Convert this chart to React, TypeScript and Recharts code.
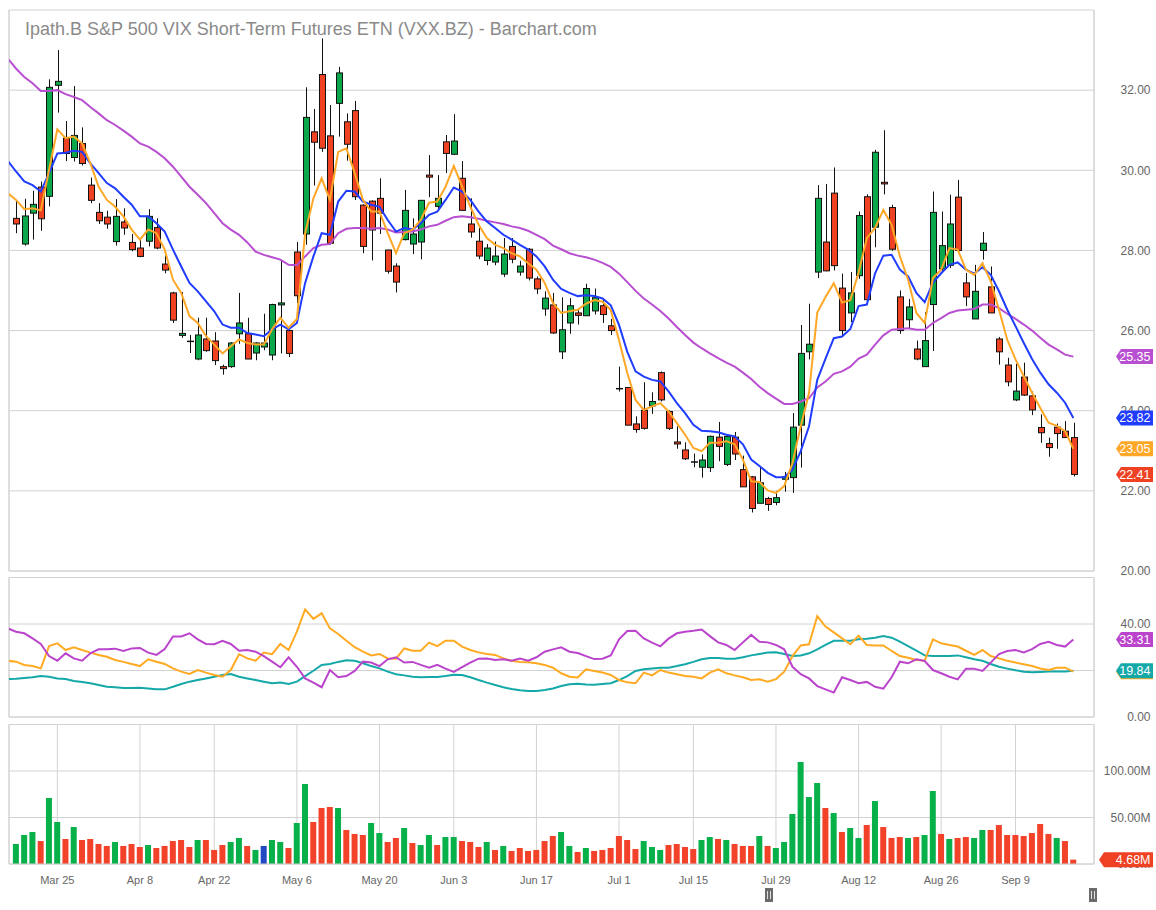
import React from 'react';
import { ComposedChart, Bar, Line, XAxis, YAxis, CartesianGrid, ReferenceLine } from 'recharts';

const FONT = '"Liberation Sans", Arial, Helvetica, sans-serif';
const W = 1156;
const X_DOMAIN: [number, number] = [-0.85, 130.5];
const GRID = '#d2d2d2';
const TXT = '#666666';
const C_GREEN = '#0aa84a';
const C_RED = '#ee4223';
const MA_ORANGE = '#ffa726';
const MA_BLUE = '#1f3cff';
const MA_PURPLE = '#b84fd0';
const IND_PURPLE = '#bb44cc';
const IND_ORANGE = '#ffaa22';
const IND_TEAL = '#14a8a8';

// x-axis tick positions (session index) and labels
const tickIdx = [5, 15, 24, 34, 44, 53, 63, 73, 82, 92, 102, 112, 121];
const tickLabels = ['Mar 25', 'Apr 8', 'Apr 22', 'May 6', 'May 20', 'Jun 3', 'Jun 17', 'Jul 1', 'Jul 15', 'Jul 29', 'Aug 12', 'Aug 26', 'Sep 9'];

const priceTicks = [20, 22, 24, 26, 28, 30, 32];
const indTicks = [0, 20, 40];
const volTicks = [0, 50, 100];

// daily candles (129 sessions)
const opens = [
  28.80, 28.16, 28.93, 29.58, 29.35, 32.12, 30.80, 30.32, 30.67, 29.63,
  28.95, 28.83, 28.22, 28.71, 28.20, 28.06, 28.23, 28.57, 27.66, 26.94,
  25.88, 25.73, 25.29, 25.79, 25.74, 25.10, 25.10, 25.92, 25.92, 25.44,
  25.59, 25.39, 26.64, 26.00, 27.96, 28.41, 30.96, 32.39, 30.86, 31.67,
  31.21, 31.49, 29.13, 29.23, 29.30, 28.01, 27.61, 28.27, 28.16, 28.21,
  29.88, 29.10, 30.71, 30.40, 29.80, 28.66, 28.23, 27.75, 27.71, 27.41,
  28.10, 27.46, 28.03, 27.29, 26.54, 26.64, 25.47, 26.19, 26.44, 26.37,
  26.49, 26.62, 26.12, 24.55, 24.58, 23.67, 24.01, 24.12, 24.95, 23.98,
  23.22, 23.02, 22.72, 22.59, 22.58, 23.34, 22.66, 23.34, 22.53, 22.35,
  21.69, 21.81, 21.71, 22.29, 22.33, 23.64, 25.47, 27.46, 28.21, 29.43,
  27.06, 26.44, 27.37, 29.34, 28.58, 29.70, 29.07, 26.84, 26.27, 25.54,
  25.10, 26.65, 27.54, 27.63, 29.33, 27.19, 26.29, 28.00, 27.09, 25.79,
  25.14, 24.27, 24.84, 24.37, 23.58, 23.18, 23.59, 23.49, 23.33,
];
const highs = [
  29.26, 29.29, 29.49, 29.72, 32.27, 33.00, 31.23, 32.10, 31.07, 29.82,
  29.18, 28.99, 29.28, 29.05, 28.41, 28.28, 29.03, 28.80, 27.87, 26.97,
  26.96, 25.89, 26.32, 26.32, 25.96, 25.15, 25.71, 26.94, 26.32, 25.71,
  26.42, 26.67, 27.74, 26.02, 28.21, 32.07, 31.53, 33.29, 31.63, 32.58,
  31.42, 31.73, 29.15, 29.25, 29.80, 28.02, 27.68, 29.51, 28.80, 29.26,
  30.38, 29.88, 30.88, 31.40, 30.23, 29.30, 28.57, 28.16, 28.22, 28.31,
  28.31, 27.74, 28.06, 27.35, 26.98, 26.94, 26.83, 26.81, 26.52, 27.17,
  27.05, 26.78, 26.29, 25.10, 24.59, 23.86, 24.71, 24.46, 24.98, 24.01,
  23.61, 23.21, 22.93, 22.91, 23.38, 23.72, 23.40, 23.47, 22.88, 22.37,
  22.62, 21.85, 22.00, 22.47, 23.94, 26.14, 26.67, 29.63, 29.66, 30.07,
  27.42, 27.46, 28.97, 29.40, 30.51, 31.00, 29.14, 27.00, 26.79, 25.75,
  26.46, 29.47, 28.97, 29.39, 29.76, 27.44, 27.64, 28.46, 27.60, 25.84,
  25.32, 25.17, 25.20, 24.48, 23.91, 23.33, 23.68, 23.74, 23.70,
];
const lows = [
  28.43, 28.12, 28.27, 28.49, 29.10, 31.44, 30.23, 30.22, 30.12, 29.18,
  28.66, 28.54, 28.12, 28.39, 27.98, 27.83, 28.10, 28.03, 27.43, 26.19,
  25.82, 25.44, 25.26, 25.47, 25.14, 24.90, 25.07, 25.67, 25.29, 25.26,
  25.51, 25.26, 25.43, 25.34, 26.68, 28.14, 29.62, 30.46, 28.14, 30.84,
  30.24, 29.26, 27.93, 27.75, 28.41, 27.42, 26.95, 28.25, 27.91, 27.78,
  29.33, 28.99, 29.93, 30.38, 28.99, 28.32, 27.78, 27.63, 27.63, 27.34,
  27.68, 27.37, 27.25, 26.91, 26.37, 25.92, 25.29, 25.92, 26.15, 26.37,
  26.40, 26.19, 25.89, 24.48, 23.64, 23.45, 23.53, 23.92, 24.23, 23.52,
  23.05, 22.77, 22.59, 22.33, 22.47, 22.74, 22.62, 22.77, 22.10, 21.46,
  21.69, 21.50, 21.64, 21.98, 21.95, 22.58, 25.28, 27.31, 27.48, 27.50,
  25.88, 26.21, 27.29, 26.75, 28.08, 29.40, 27.99, 25.92, 26.04, 25.26,
  25.10, 25.49, 27.48, 27.56, 28.00, 26.61, 26.29, 27.77, 26.44, 25.15,
  24.61, 24.24, 24.37, 23.89, 23.20, 22.85, 23.05, 23.33, 22.36,
];
const closes = [
  28.66, 28.86, 29.15, 28.79, 32.07, 32.22, 30.42, 30.87, 30.17, 29.25,
  28.74, 28.66, 28.85, 28.56, 28.02, 27.85, 28.85, 28.06, 27.51, 26.26,
  25.93, 25.73, 25.89, 25.50, 25.25, 25.05, 25.69, 26.19, 25.29, 25.69,
  25.69, 26.65, 26.69, 25.43, 26.87, 31.32, 30.70, 30.55, 28.18, 32.43,
  30.65, 29.34, 28.10, 28.51, 28.93, 27.48, 27.21, 29.00, 28.41, 29.25,
  29.83, 29.30, 30.42, 30.73, 29.00, 28.46, 27.86, 28.06, 27.86, 27.91,
  27.78, 27.61, 27.31, 27.04, 26.81, 25.94, 26.02, 26.62, 26.38, 27.05,
  26.82, 26.40, 26.00, 24.55, 23.64, 23.53, 23.56, 24.23, 24.27, 23.56,
  23.17, 22.80, 22.72, 22.77, 23.36, 23.11, 23.36, 22.92, 22.10, 21.56,
  22.20, 21.66, 21.83, 22.35, 23.59, 25.43, 25.66, 29.30, 27.49, 27.62,
  26.00, 26.94, 28.87, 26.77, 30.45, 29.66, 28.03, 26.00, 26.59, 25.29,
  25.75, 28.95, 28.12, 28.66, 28.00, 26.84, 26.98, 28.18, 26.44, 25.47,
  24.72, 24.49, 24.39, 24.02, 23.45, 23.08, 23.43, 23.33, 22.41,
];

// moving averages; first value is the session before the first visible candle
const maFast = [29.43,
  29.26, 29.03, 29.05, 29.00, 30.01, 31.02, 30.80, 30.84, 30.67, 30.17,
  29.59, 29.26, 29.09, 28.85, 28.52, 28.27, 28.52, 28.43, 28.02, 27.27,
  26.94, 26.36, 26.19, 25.86, 25.65, 25.43, 25.61, 25.78, 25.69, 25.65,
  25.65, 26.03, 26.32, 26.07, 26.29, 28.43, 29.30, 29.80, 29.26, 30.46,
  30.55, 29.93, 29.26, 28.97, 28.97, 28.43, 27.93, 28.43, 28.52, 28.76,
  29.19, 29.22, 29.59, 30.11, 29.59, 29.09, 28.64, 28.31, 28.14, 28.06,
  27.93, 27.85, 27.68, 27.52, 27.19, 26.69, 26.44, 26.48, 26.52, 26.67,
  26.76, 26.72, 26.51, 25.76, 24.94, 24.27, 24.02, 24.11, 24.19, 23.98,
  23.69, 23.40, 23.07, 22.99, 23.20, 23.20, 23.24, 23.16, 22.78, 22.24,
  22.22, 22.01, 21.95, 22.12, 22.70, 23.61, 24.44, 26.45, 26.84, 27.18,
  26.70, 26.76, 27.45, 28.31, 28.56, 29.01, 28.64, 27.85, 27.27, 26.44,
  26.19, 27.31, 27.52, 28.06, 28.02, 27.52, 27.39, 27.68, 27.23, 26.52,
  25.77, 25.28, 24.86, 24.45, 24.07, 23.70, 23.62, 23.49, 23.05,
];
const maMid = [30.24,
  29.97, 29.72, 29.63, 29.47, 29.93, 30.42, 30.44, 30.49, 30.46, 30.17,
  29.93, 29.68, 29.55, 29.34, 29.14, 28.85, 28.85, 28.68, 28.47, 28.02,
  27.60, 27.19, 26.98, 26.73, 26.48, 26.15, 26.07, 26.07, 25.94, 25.90,
  25.86, 26.03, 26.15, 26.03, 26.19, 27.19, 27.85, 28.43, 28.39, 29.22,
  29.49, 29.47, 29.22, 29.14, 29.09, 28.76, 28.47, 28.56, 28.52, 28.68,
  28.89, 28.97, 29.26, 29.57, 29.47, 29.26, 28.97, 28.72, 28.56, 28.39,
  28.27, 28.14, 28.02, 27.85, 27.60, 27.27, 27.04, 26.94, 26.86, 26.88,
  26.86, 26.80, 26.63, 26.14, 25.47, 24.98, 24.85, 24.77, 24.73, 24.48,
  24.19, 23.94, 23.65, 23.50, 23.49, 23.46, 23.40, 23.36, 23.16, 22.78,
  22.62, 22.45, 22.34, 22.34, 22.53, 22.99, 23.61, 24.77, 25.30, 25.81,
  25.85, 26.04, 26.61, 26.65, 27.43, 27.87, 27.89, 27.52, 27.35, 26.94,
  26.71, 27.20, 27.43, 27.64, 27.70, 27.52, 27.42, 27.58, 27.39, 26.98,
  26.52, 26.11, 25.69, 25.29, 24.95, 24.66, 24.45, 24.20, 23.82,
];
const maSlow = [32.79,
  32.54, 32.33, 32.17, 31.98, 31.98, 32.00, 31.90, 31.83, 31.75, 31.58,
  31.42, 31.25, 31.13, 30.99, 30.84, 30.67, 30.59, 30.46, 30.30, 30.09,
  29.84, 29.59, 29.39, 29.18, 28.93, 28.68, 28.52, 28.39, 28.20, 27.97,
  27.89, 27.83, 27.77, 27.64, 27.63, 27.85, 28.06, 28.14, 28.16, 28.43,
  28.54, 28.56, 28.56, 28.54, 28.56, 28.52, 28.45, 28.46, 28.47, 28.52,
  28.60, 28.64, 28.74, 28.83, 28.85, 28.83, 28.79, 28.74, 28.70, 28.66,
  28.60, 28.56, 28.49, 28.39, 28.28, 28.12, 28.03, 27.93, 27.87, 27.83,
  27.77, 27.69, 27.59, 27.42, 27.21, 26.99, 26.80, 26.65, 26.49, 26.30,
  26.09, 25.89, 25.70, 25.56, 25.43, 25.31, 25.20, 25.10, 24.95, 24.79,
  24.60, 24.44, 24.30, 24.17, 24.17, 24.23, 24.31, 24.58, 24.73, 24.92,
  24.98, 25.10, 25.30, 25.40, 25.65, 25.88, 26.02, 26.04, 26.06, 26.02,
  26.02, 26.19, 26.31, 26.44, 26.50, 26.52, 26.54, 26.65, 26.65, 26.56,
  26.42, 26.29, 26.15, 26.00, 25.82, 25.65, 25.53, 25.40, 25.35,
];

// indicator lines; first value is the session before the first visible candle
const diMinus = [38.1,
  36.7, 36.0, 33.8, 31.4, 26.2, 24.2, 27.4, 25.2, 24.2, 27.4,
  29.1, 29.1, 29.4, 28.4, 29.5, 29.7, 27.7, 26.7, 29.2, 34.6,
  34.6, 36.0, 33.4, 31.4, 31.3, 32.8, 31.4, 28.5, 28.8, 28.1,
  26.2, 23.8, 21.4, 25.7, 21.6, 16.6, 14.8, 12.8, 20.2, 17.1,
  17.6, 19.8, 23.8, 23.4, 21.9, 24.8, 25.7, 23.4, 23.7, 22.4,
  21.2, 22.4, 20.8, 19.4, 21.4, 23.4, 25.1, 25.2, 24.5, 24.8,
  24.2, 25.1, 24.2, 25.7, 28.1, 29.1, 30.0, 28.1, 27.5, 26.2,
  24.9, 25.1, 26.5, 33.4, 37.0, 37.1, 33.8, 32.0, 30.4, 33.7,
  36.0, 36.7, 37.1, 37.6, 34.8, 32.1, 31.0, 28.8, 32.1, 35.3,
  32.4, 32.1, 31.0, 29.1, 21.6, 18.4, 16.6, 13.3, 11.9, 10.5,
  17.1, 15.9, 14.5, 15.1, 13.0, 12.2, 17.1, 23.8, 23.1, 24.8,
  24.1, 20.2, 18.8, 17.3, 16.2, 20.8, 20.8, 19.8, 23.4, 27.1,
  28.4, 28.8, 27.8, 29.2, 31.4, 32.3, 31.0, 30.3, 33.31,
];
const diPlus = [24.2,
  23.8, 22.4, 21.9, 20.9, 30.5, 31.7, 28.8, 30.0, 28.8, 27.7,
  26.7, 25.9, 24.5, 23.7, 22.8, 21.9, 24.8, 23.8, 22.8, 20.9,
  19.5, 18.5, 20.2, 19.1, 18.1, 17.3, 20.2, 27.0, 25.2, 24.2,
  27.7, 27.0, 31.4, 28.8, 36.7, 46.3, 42.2, 44.6, 38.1, 35.7,
  32.8, 30.0, 28.1, 26.5, 27.1, 25.2, 25.1, 29.5, 28.5, 28.5,
  32.0, 30.5, 32.8, 32.8, 30.3, 28.8, 27.8, 27.1, 26.7, 25.2,
  24.2, 23.7, 23.5, 23.1, 22.4, 21.2, 18.8, 17.3, 17.0, 20.5,
  19.8, 19.1, 18.1, 15.9, 14.9, 14.5, 19.1, 17.9, 20.2, 19.1,
  18.4, 17.6, 17.3, 16.6, 19.1, 20.5, 18.8, 17.9, 17.1, 15.9,
  16.2, 15.2, 16.3, 19.5, 26.2, 30.8, 31.3, 43.4, 38.9, 36.4,
  33.8, 31.3, 35.0, 31.0, 30.8, 30.8, 28.4, 26.2, 25.5, 24.5,
  24.2, 33.4, 31.7, 31.0, 30.3, 28.5, 26.7, 28.8, 26.2, 25.2,
  24.2, 23.4, 22.7, 21.9, 20.9, 20.2, 21.2, 21.2, 19.5,
];
const adx = [16.3,
  16.5, 16.8, 17.1, 17.6, 17.3, 16.6, 16.3, 15.5, 15.1, 14.5,
  13.8, 13.0, 12.8, 12.5, 12.5, 12.6, 12.3, 11.9, 11.9, 13.0,
  14.2, 15.2, 15.9, 16.6, 17.3, 18.1, 18.5, 17.3, 16.6, 15.9,
  15.2, 14.5, 14.8, 14.2, 15.2, 17.6, 19.9, 22.4, 22.8, 23.7,
  24.4, 24.2, 23.1, 21.9, 20.9, 19.5, 18.4, 17.9, 17.3, 17.1,
  17.2, 17.2, 17.6, 18.2, 18.1, 17.1, 15.9, 14.8, 13.8, 12.8,
  12.0, 11.5, 11.2, 11.2, 11.6, 12.3, 13.3, 14.1, 14.3, 14.0,
  13.9, 14.2, 14.5, 15.9, 17.6, 19.8, 20.5, 20.9, 21.2, 21.2,
  21.9, 22.7, 23.7, 24.8, 25.4, 25.4, 25.1, 25.1, 25.7, 26.5,
  27.1, 27.7, 27.8, 27.1, 26.2, 26.5, 27.4, 29.1, 31.0, 32.8,
  32.8, 32.8, 33.4, 33.7, 34.1, 34.8, 34.1, 32.4, 30.5, 28.5,
  26.5, 26.2, 26.2, 26.2, 26.5, 25.7, 24.8, 24.2, 22.8, 21.6,
  20.8, 20.1, 19.5, 19.2, 19.4, 19.6, 19.6, 19.6, 19.84,
];

// volume in millions, and bar colour (g = up, r = down, b = unchanged)
const volumes = [
  21.5, 31.2, 34.4, 24.7, 71.0, 45.2, 26.9, 39.8, 25.8, 26.9,
  21.5, 19.4, 23.7, 19.4, 21.5, 18.3, 20.4, 17.2, 19.4, 24.7,
  25.8, 18.3, 25.8, 25.8, 15.1, 20.4, 23.7, 28.0, 19.4, 15.1,
  19.4, 25.8, 23.7, 17.2, 44.1, 86.0, 45.2, 60.2, 61.3, 60.2,
  36.6, 32.3, 31.2, 44.1, 33.3, 23.7, 28.0, 38.7, 22.6, 20.4,
  31.2, 20.4, 29.0, 29.0, 24.7, 23.7, 18.3, 23.7, 15.1, 19.4,
  14.0, 17.2, 14.0, 15.1, 24.7, 30.1, 34.4, 19.4, 12.9, 17.2,
  14.0, 15.1, 17.2, 30.1, 25.8, 16.1, 24.7, 18.3, 15.1, 20.4,
  21.5, 18.3, 16.1, 25.8, 29.0, 26.9, 25.8, 21.5, 19.4, 19.4,
  30.1, 19.4, 17.2, 23.7, 53.8, 109.7, 72.0, 87.1, 60.2, 54.8,
  34.4, 38.7, 28.0, 41.9, 67.7, 39.8, 28.0, 29.0, 28.0, 29.0,
  31.2, 78.5, 32.3, 26.9, 28.0, 29.0, 28.0, 36.6, 36.6, 41.9,
  31.2, 31.2, 30.1, 33.3, 43.0, 32.3, 28.0, 24.7, 4.68,
];
const volDir = [
  'g', 'g', 'g', 'r', 'g', 'g', 'r', 'g', 'r', 'r',
  'r', 'r', 'g', 'r', 'r', 'r', 'g', 'r', 'r', 'r',
  'r', 'r', 'g', 'r', 'r', 'r', 'g', 'g', 'r', 'g',
  'b', 'g', 'g', 'r', 'g', 'g', 'r', 'r', 'r', 'g',
  'r', 'r', 'r', 'g', 'g', 'r', 'r', 'g', 'r', 'g',
  'g', 'r', 'g', 'g', 'r', 'r', 'r', 'g', 'r', 'g',
  'r', 'r', 'r', 'r', 'r', 'r', 'g', 'g', 'r', 'g',
  'r', 'r', 'r', 'r', 'r', 'r', 'g', 'g', 'g', 'r',
  'r', 'r', 'r', 'g', 'g', 'r', 'g', 'r', 'r', 'r',
  'g', 'r', 'g', 'g', 'g', 'g', 'g', 'g', 'r', 'g',
  'r', 'g', 'g', 'r', 'g', 'r', 'r', 'r', 'g', 'r',
  'g', 'g', 'r', 'g', 'r', 'r', 'g', 'g', 'r', 'r',
  'r', 'r', 'r', 'r', 'r', 'r', 'g', 'r', 'r',
];
const VOL_COLORS: Record<string, string> = { g: '#08b04a', r: '#f2432a', b: '#2249c2' };

const priceRows = maFast.map((f, k) => ({
  i: k - 1, o: opens[k - 1], h: highs[k - 1], l: lows[k - 1], c: closes[k - 1],
  f, m: maMid[k], s: maSlow[k],
}));
const indRows = diMinus.map((p, k) => ({ i: k - 1, p, o: diPlus[k], t: adx[k] }));
const volRows = volumes.map((v, i) => ({ i, v, d: volDir[i] }));

const last = (a: number[]) => a[a.length - 1];
const priceTags = [
  { v: last(maSlow), color: MA_PURPLE, text: last(maSlow).toFixed(2) },
  { v: last(maMid), color: MA_BLUE, text: last(maMid).toFixed(2) },
  { v: last(maFast), color: MA_ORANGE, text: last(maFast).toFixed(2) },
  { v: last(closes), color: C_RED, text: last(closes).toFixed(2) },
];
const indTags = [
  { v: last(diPlus), color: IND_ORANGE, text: last(diPlus).toFixed(2) },
  { v: last(adx), color: IND_TEAL, text: last(adx).toFixed(2) },
  { v: last(diMinus), color: IND_PURPLE, text: last(diMinus).toFixed(2) },
];
const volTags = [{ v: last(volumes), color: C_RED, text: last(volumes).toFixed(2) + 'M' }];

type Tag = { v: number; color: string; text: string };

// one tick renderer for plain axis labels followed by value tags (drawn on top)
const makeTick = (gridVals: number[], tags: Tag[], suffix: string, tip: number) => (p: any) => {
  const v = Number(p.payload.value);
  const y = p.y;
  const idx = p.index;
  if (idx >= gridVals.length) {
    const t = tags[idx - gridVals.length];
    if (!t) return <g />;
    const d = `M${tip},${y} L${tip + 5},${y - 7.5} L1153,${y - 7.5} L1153,${y + 7.5} L${tip + 5},${y + 7.5} Z`;
    return (
      <g>
        <path d={d} fill={t.color} />
        <text x={1150.5} y={y} dy={4.5} textAnchor="end" fontSize={12.5} fill="#ffffff" fontFamily={FONT}>
          {t.text}
        </text>
      </g>
    );
  }
  return (
    <text x={1150.5} y={y} dy={4.3} textAnchor="end" fontSize={12} fill={TXT} fontFamily={FONT}>
      {v.toFixed(2) + suffix}
    </text>
  );
};

const dateTick = (p: any) => (
  <text x={p.x} y={p.y} dy={12} textAnchor="middle" fontSize={11} fill={TXT} fontFamily={FONT}>
    {tickLabels[tickIdx.indexOf(Number(p.payload.value))]}
  </text>
);

function CandleShape(props: any) {
  const { x, y, width, height, payload } = props;
  if (!payload || payload.o == null || !isFinite(y) || !isFinite(height) || !isFinite(x)) return <g />;
  const { o, c, h, l } = payload;
  const top = Math.min(y, y + height);
  const bot = Math.max(y, y + height);
  const k = (bot - top) / (h - l);
  const py = (v: number) => top + (h - v) * k;
  const cx = Math.round(x + width / 2) + 0.5;
  const yo = py(o);
  const yc = py(c);
  const flat = Math.abs(c - o) < 0.005;
  return (
    <g>
      <line x1={cx} x2={cx} y1={top} y2={bot} stroke="#111" strokeWidth={1} />
      {flat ? (
        <line x1={cx - 3.5} x2={cx + 3.5} y1={yo} y2={yo} stroke="#111" strokeWidth={1.5} />
      ) : (
        <rect
          x={cx - 3}
          y={Math.min(yo, yc)}
          width={6}
          height={Math.max(1, Math.abs(yc - yo))}
          fill={c > o ? C_GREEN : C_RED}
          stroke="#111"
          strokeWidth={1}
        />
      )}
    </g>
  );
}

function VolShape(props: any) {
  const { x, y, width, height, payload } = props;
  if (!isFinite(x) || !isFinite(y)) return <g />;
  return <rect x={x} y={y} width={width} height={height} fill={VOL_COLORS[payload.d]} />;
}

const borderLines = (yMin: number, yMax: number) => [
  <ReferenceLine key="bl" x={X_DOMAIN[0]} stroke={GRID} />,
  <ReferenceLine key="br" x={X_DOMAIN[1]} stroke={GRID} />,
  <ReferenceLine key="bt" y={yMax} stroke={GRID} />,
  <ReferenceLine key="bb" y={yMin} stroke={GRID} />,
];

function PriceChart() {
  const ticks = [...priceTicks, ...priceTags.map((t) => t.v)];
  return (
    <ComposedChart width={W} height={585} data={priceRows} margin={{ top: 10, right: 0, bottom: 14, left: 9 }}>
      <CartesianGrid stroke={GRID} horizontalValues={priceTicks} />
      <XAxis type="number" dataKey="i" domain={X_DOMAIN} ticks={tickIdx} allowDataOverflow height={0}
        tick={false} tickLine={false} axisLine={false} />
      <YAxis orientation="right" domain={[20, 34]} ticks={ticks} width={62} interval={0}
        tickLine={false} axisLine={false} tick={makeTick(priceTicks, priceTags, '', 1116)} />
      {borderLines(20, 34)}
      <Bar dataKey={(d: any) => (d.h == null ? null : [d.l, d.h])} barSize={7} shape={CandleShape} isAnimationActive={false} />
      <Line type="linear" dataKey="s" stroke={MA_PURPLE} strokeWidth={2} dot={false} isAnimationActive={false} />
      <Line type="linear" dataKey="m" stroke={MA_BLUE} strokeWidth={2} dot={false} isAnimationActive={false} />
      <Line type="linear" dataKey="f" stroke={MA_ORANGE} strokeWidth={2} dot={false} isAnimationActive={false} />
    </ComposedChart>
  );
}

function IndicatorChart() {
  const ticks = [...indTicks, ...indTags.map((t) => t.v)];
  return (
    <ComposedChart width={W} height={170} data={indRows} margin={{ top: 17.5, right: 0, bottom: 13, left: 9 }}>
      <CartesianGrid stroke={GRID} horizontalValues={indTicks} />
      <XAxis type="number" dataKey="i" domain={X_DOMAIN} ticks={tickIdx} allowDataOverflow height={0}
        tick={false} tickLine={false} axisLine={false} />
      <YAxis orientation="right" domain={[0, 60]} ticks={ticks} width={62} interval={0}
        tickLine={false} axisLine={false} tick={makeTick(indTicks, indTags, '', 1116)} />
      {borderLines(0, 60)}
      <Line type="linear" dataKey="t" stroke={IND_TEAL} strokeWidth={2} dot={false} isAnimationActive={false} />
      <Line type="linear" dataKey="o" stroke={IND_ORANGE} strokeWidth={2} dot={false} isAnimationActive={false} />
      <Line type="linear" dataKey="p" stroke={IND_PURPLE} strokeWidth={2} dot={false} isAnimationActive={false} />
    </ComposedChart>
  );
}

function VolumeChart() {
  const ticks = [...volTicks, ...volTags.map((t) => t.v)];
  return (
    <ComposedChart width={W} height={210} data={volRows} margin={{ top: 24.5, right: 0, bottom: 16, left: 9 }}>
      <CartesianGrid stroke={GRID} horizontalValues={volTicks} />
      <XAxis type="number" dataKey="i" domain={X_DOMAIN} ticks={tickIdx} allowDataOverflow height={30}
        tick={dateTick} tickLine={false} axisLine={false} interval={0} />
      <YAxis orientation="right" domain={[0, 150]} ticks={ticks} width={62} interval={0}
        tickLine={false} axisLine={false} tick={makeTick(volTicks, volTags, 'M', 1099)} />
      {borderLines(0, 150)}
      <Bar dataKey="v" barSize={6} shape={VolShape} isAnimationActive={false} />
    </ComposedChart>
  );
}

function Handle({ x }: { x: number }) {
  return (
    <g>
      <rect x={x - 4} y={888} width={8} height={14} fill="#6b6b6b" />
      <line x1={x - 1.5} x2={x - 1.5} y1={891} y2={899} stroke="#dddddd" strokeWidth={1} />
      <line x1={x + 1.5} x2={x + 1.5} y1={891} y2={899} stroke="#dddddd" strokeWidth={1} />
    </g>
  );
}

export default function App() {
  return (
    <div style={{ position: 'absolute', left: 0, top: 0, width: 1156, height: 910, background: '#ffffff', fontFamily: FONT }}>
      <div style={{ position: 'absolute', left: 0, top: 0 }}>
        <PriceChart />
      </div>
      <div style={{ position: 'absolute', left: 0, top: 560 }}>
        <IndicatorChart />
      </div>
      <div style={{ position: 'absolute', left: 0, top: 700 }}>
        <VolumeChart />
      </div>
      <svg width={1156} height={910} style={{ position: 'absolute', left: 0, top: 0, pointerEvents: 'none' }}>
        <text x={25} y={35} fontSize={18} fill="#8a8a8a" fontFamily={FONT}>
          {'Ipath.B S&P 500 VIX Short-Term Futures ETN (VXX.BZ) - Barchart.com'}
        </text>
        <Handle x={769} />
        <Handle x={1093} />
      </svg>
    </div>
  );
}
